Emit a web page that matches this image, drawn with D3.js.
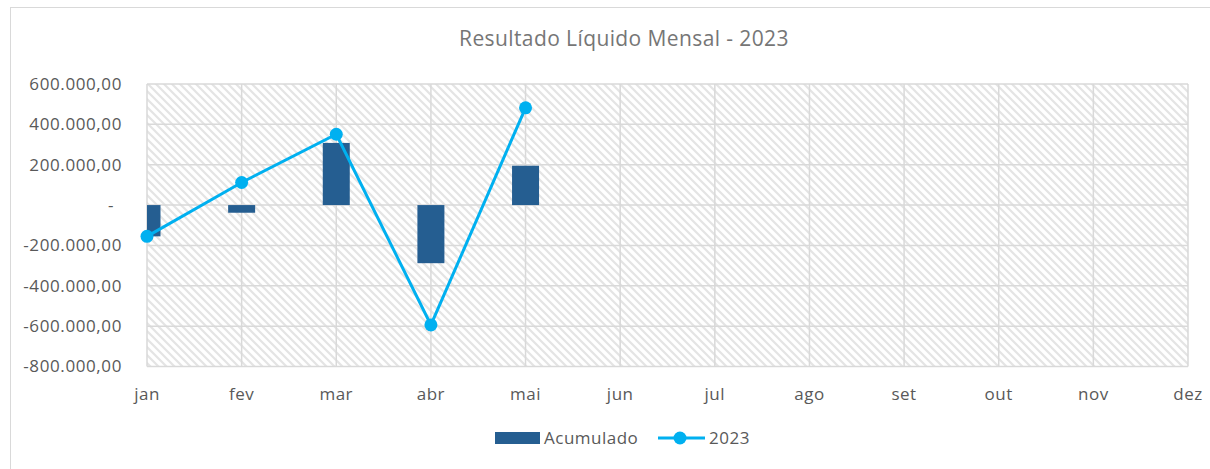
<!DOCTYPE html>
<html>
<head>
<meta charset="utf-8">
<script src="https://cdn.jsdelivr.net/npm/d3@7"></script>
<style>
  body { margin: 0; background: #fff; }
  text { font-family: "Open Sans", sans-serif; fill: #595959; }
</style>
</head>
<body>
<div id="chart"></div>
<script>
var months = ["jan", "fev", "mar", "abr", "mai", "jun", "jul", "ago", "set", "out", "nov", "dez"];
var valores2023 = [-155000, 112000, 351000, -594000, 482000];
var acumulado = [-155000, -38000, 308000, -288000, 195000];
var yTicks = [-800000, -600000, -400000, -200000, 0, 200000, 400000, 600000];

var width = 1210, height = 469;
var plot = {left: 147, right: 1188, top: 84, bottom: 366.5};

var svg = d3.select("#chart")
    .append("svg")
    .attr("width", width)
    .attr("height", height);

// chart border (only top and left visible)
svg.append("rect")
    .attr("x", 10.5).attr("y", 7.5)
    .attr("width", 1210).attr("height", 480)
    .attr("fill", "none")
    .attr("stroke", "#D9D9D9");

var defs = svg.append("defs");
var pat = defs.append("pattern")
    .attr("id", "hatch")
    .attr("patternUnits", "userSpaceOnUse")
    .attr("width", 8).attr("height", 8);
pat.append("rect").attr("width", 8).attr("height", 8).attr("fill", "#fff");
pat.append("path")
    .attr("d", "M-2,-2L10,10M-2,6L2,10M6,-2L10,2")
    .attr("stroke", "#E4E4E4")
    .attr("stroke-width", 2.2);

defs.append("clipPath").attr("id", "plotclip")
    .append("rect")
    .attr("x", plot.left).attr("y", plot.top)
    .attr("width", plot.right - plot.left).attr("height", plot.bottom - plot.top);

var x = d3.scalePoint().domain(months).range([plot.left, plot.right]);
var y = d3.scaleLinear().domain([-800000, 600000]).range([plot.bottom, plot.top]);

svg.append("rect")
    .attr("x", plot.left).attr("y", plot.top)
    .attr("width", plot.right - plot.left).attr("height", plot.bottom - plot.top)
    .attr("fill", "url(#hatch)");

var fmt = function (v) {
    if (v === 0) return "-";
    var s = d3.format(",.2f")(v).replace(/,/g, "#").replace(".", ",").replace(/#/g, ".");
    return s.replace("−", "-");
};

// gridlines
svg.append("g").selectAll("line")
    .data(yTicks).enter()
    .append("line")
    .attr("x1", plot.left).attr("x2", plot.right)
    .attr("y1", function (d) { return y(d); })
    .attr("y2", function (d) { return y(d); })
    .attr("stroke", "#D9D9D9").attr("stroke-width", 1.5);
svg.append("g").selectAll("line")
    .data(months).enter()
    .append("line")
    .attr("x1", function (d) { return x(d); })
    .attr("x2", function (d) { return x(d); })
    .attr("y1", plot.top).attr("y2", plot.bottom)
    .attr("stroke", "#D9D9D9").attr("stroke-width", 1.5);

// y labels
svg.append("g").selectAll("text")
    .data(yTicks).enter()
    .append("text")
    .attr("x", function (d) { return d === 0 ? 114 : 122; })
    .attr("y", function (d) { return y(d); })
    .attr("dy", "0.35em")
    .attr("text-anchor", "end")
    .style("font-size", "17px")
    .style("letter-spacing", "0.6px")
    .text(fmt);

// x labels
svg.append("g").selectAll("text")
    .data(months).enter()
    .append("text")
    .attr("x", function (d) { return x(d); })
    .attr("y", 400)
    .attr("text-anchor", "middle")
    .style("font-size", "17px")
    .style("letter-spacing", "0.5px")
    .text(function (d) { return d; });

// bars
var barW = 27;
svg.append("g")
    .attr("clip-path", "url(#plotclip)")
    .selectAll("rect")
    .data(acumulado).enter()
    .append("rect")
    .attr("x", function (d, i) { return x(months[i]) - barW / 2; })
    .attr("y", function (d) { return y(Math.max(0, d)); })
    .attr("width", barW)
    .attr("height", function (d) { return Math.abs(y(d) - y(0)); })
    .attr("fill", "#255E91");

// line
var line = d3.line()
    .x(function (d, i) { return x(months[i]); })
    .y(function (d) { return y(d); });
svg.append("path")
    .datum(valores2023)
    .attr("d", line)
    .attr("fill", "none")
    .attr("stroke", "#00B0F0")
    .attr("stroke-width", 3);
svg.append("g").selectAll("circle")
    .data(valores2023).enter()
    .append("circle")
    .attr("cx", function (d, i) { return x(months[i]); })
    .attr("cy", function (d) { return y(d); })
    .attr("r", 6.5)
    .attr("fill", "#00B0F0");

// title
svg.append("text")
    .attr("x", 624).attr("y", 46)
    .attr("text-anchor", "middle")
    .style("font-size", "21px")
    .style("letter-spacing", "0.4px")
    .style("fill", "#767676")
    .text("Resultado Líquido Mensal - 2023");

// legend
var lg = svg.append("g");
lg.append("rect").attr("x", 495).attr("y", 432).attr("width", 45).attr("height", 12).attr("fill", "#255E91");
lg.append("text").attr("x", 544).attr("y", 444).style("font-size", "17px").style("letter-spacing", "0.5px").text("Acumulado");
lg.append("line").attr("x1", 658).attr("x2", 705).attr("y1", 438).attr("y2", 438)
    .attr("stroke", "#00B0F0").attr("stroke-width", 3);
lg.append("circle").attr("cx", 680).attr("cy", 438).attr("r", 6.5).attr("fill", "#00B0F0");
lg.append("text").attr("x", 709).attr("y", 444).style("font-size", "17px").style("letter-spacing", "0.5px").text("2023");
</script>
</body>
</html>
